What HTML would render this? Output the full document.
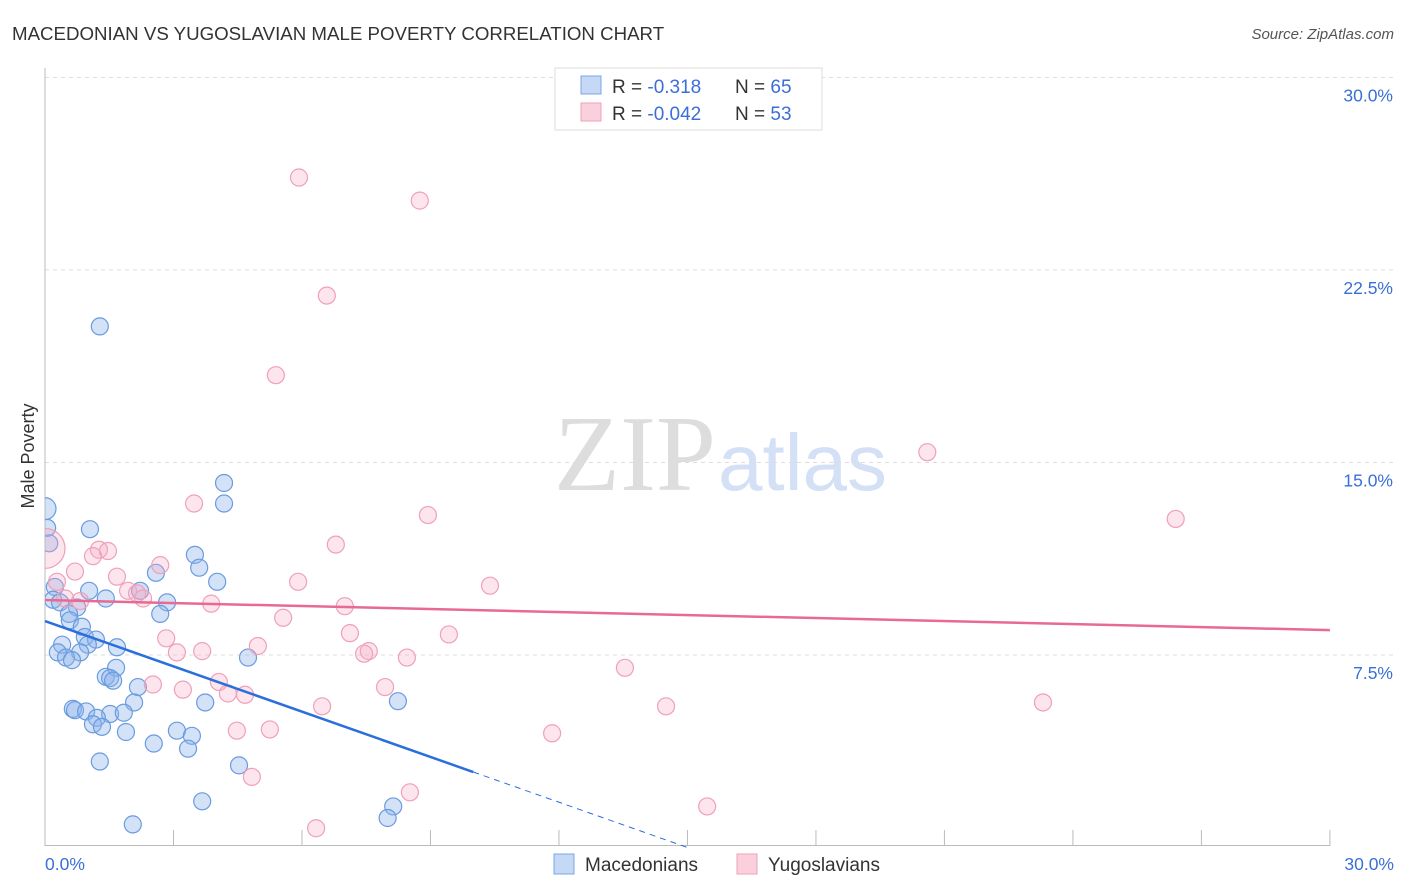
<!DOCTYPE html>
<html><head><meta charset="utf-8"><style>
body{margin:0;background:#fff;font-family:"Liberation Sans",sans-serif}
#wrap{position:relative;width:1406px;height:892px;overflow:hidden}
</style></head><body>
<div id="wrap">
<svg id="svg" width="1406" height="892" xmlns="http://www.w3.org/2000/svg">
<defs><clipPath id="plotclip"><rect x="45" y="60" width="1360" height="786"/></clipPath></defs>
<text x="12" y="40" font-size="18.7" fill="#333">MACEDONIAN VS YUGOSLAVIAN MALE POVERTY CORRELATION CHART</text>
<text x="1394" y="39" font-size="15" fill="#555" text-anchor="end" font-style="italic">Source: ZipAtlas.com</text>
<text x="716" y="490" font-size="108" fill="#ddd" text-anchor="end" font-family="Liberation Serif">ZIP</text>
<text x="718" y="490" font-size="80" fill="#d3e0f5">atlas</text>
<g id="grid"></g><g id="pts" clip-path="url(#plotclip)"></g><g id="trend"></g>
<text transform="translate(34,456) rotate(-90)" font-size="18" fill="#333" text-anchor="middle">Male Poverty</text>
<text x="45" y="870" font-size="17.5" fill="#3a6fd8">0.0%</text>
<text x="1394" y="870" font-size="17.5" fill="#3a6fd8" text-anchor="end">30.0%</text>
<g>
<rect x="555" y="68" width="267" height="62" fill="#fff" stroke="#ddd"/>
<rect x="581" y="76" width="20" height="18" fill="#c5d8f6" stroke="#7ea4e6"/>
<rect x="581" y="103" width="20" height="18" fill="#fbd0dd" stroke="#f0a0b8"/>
<text x="612" y="93" font-size="19" fill="#333">R = <tspan fill="#3a6fd8">-0.318</tspan><tspan x="735">N = </tspan><tspan fill="#3a6fd8">65</tspan></text>
<text x="612" y="120" font-size="19" fill="#333">R = <tspan fill="#3a6fd8">-0.042</tspan><tspan x="735">N = </tspan><tspan fill="#3a6fd8">53</tspan></text>
</g>
<g>
<rect x="554" y="854" width="20" height="20" fill="#c5d8f6" stroke="#7ea4e6"/>
<text x="585" y="871" font-size="19" fill="#333">Macedonians</text>
<rect x="737" y="854" width="20" height="20" fill="#fbd0dd" stroke="#f0a0b8"/>
<text x="768" y="871" font-size="19" fill="#333">Yugoslavians</text>
</g>
</svg></div>
<script>
const yTicks=[7.5,15,22.5,30];
const yTickLabels=["7.5%","15.0%","22.5%","30.0%"];
const macX=[0,0.05,0.1,1.28,1.05,4.18,4.18,3.5,3.6,4.02,2.59,2.22,0.23,1.03,1.42,0.19,0.35,2.85,2.69,0.75,0.56,0.58,0.86,0.93,1.19,0.4,1.0,1.68,0.3,0.82,0.49,0.63,4.74,1.66,1.42,1.52,1.59,2.17,2.08,3.74,8.24,0.65,0.7,0.96,1.52,1.84,1.21,1.12,1.33,1.89,3.08,3.43,3.34,2.54,1.28,4.53,3.67,8.13,8.0,2.05];
const macY=[13.2,12.45,11.85,20.3,12.4,14.2,13.4,11.4,10.9,10.35,10.7,10.0,10.15,10.0,9.7,9.65,9.55,9.55,9.1,9.35,9.1,8.85,8.6,8.2,8.1,7.9,7.9,7.8,7.6,7.6,7.4,7.3,7.4,7.0,6.65,6.6,6.5,6.25,5.65,5.65,5.7,5.4,5.35,5.3,5.2,5.25,5.05,4.8,4.7,4.5,4.55,4.35,3.85,4.05,3.35,3.2,1.8,1.6,1.15,0.9];
const yugX=[5.93,8.75,6.58,5.39,20.6,26.4,3.48,8.94,6.79,0,1.26,1.47,1.12,2.69,0.7,1.68,0.28,5.91,10.39,1.94,2.15,2.29,0.47,0.82,3.88,7.0,5.56,7.12,9.43,2.83,4.97,3.08,3.67,7.56,7.45,8.45,13.54,4.06,2.52,3.22,7.94,4.27,4.67,6.47,14.5,23.3,4.48,5.25,11.84,4.83,8.52,15.46,6.33];
const yugY=[26.1,25.2,21.5,18.4,15.4,12.8,13.4,12.95,11.8,11.65,11.6,11.55,11.35,11.0,10.75,10.55,10.35,10.35,10.2,10.0,9.9,9.7,9.7,9.6,9.5,9.4,8.95,8.35,8.3,8.15,7.85,7.6,7.65,7.65,7.55,7.4,7.0,6.45,6.35,6.15,6.25,6.0,5.95,5.5,5.5,5.65,4.55,4.6,4.45,2.75,2.15,1.6,0.75];
const macTrend=[8.82,-0.588];
const yugTrend=[9.64,-0.039];
const X=v=>45+v*42.83, Y=v=>847.5-v*25.67;
const NS="http://www.w3.org/2000/svg";
function mk(t,a,p){const e=document.createElementNS(NS,t);for(const k in a)e.setAttribute(k,a[k]);p.appendChild(e);return e;}
const grid=document.getElementById('grid'),pts=document.getElementById('pts'),tr=document.getElementById('trend');
yTicks.forEach((v,i)=>{
 const l=mk('line',{x1:45,x2:1395,y1:Y(v),y2:Y(v),stroke:'#ddd','stroke-dasharray':'4,4'},grid);
 
 
 const t=mk('text',{x:1393,y:Y(v)+24,'font-size':17.5,fill:'#3a6fd8','text-anchor':'end'},grid);t.textContent=yTickLabels[i];
 
 
});
mk('line',{x1:45,x2:45,y1:68,y2:846,stroke:'#bbb'},grid);
mk('line',{x1:45,x2:1330,y1:845.5,y2:845.5,stroke:'#bbb'},grid);
for(let i=0;i<=10;i++){const tk=mk('line',{x1:X(i*3),x2:X(i*3),y1:830,y2:846,stroke:'#bbb'},grid);
 
 }
macX.forEach((x,i)=>{const c=mk('circle',{cx:X(x),cy:Y(macY[i]),r:i==0?11:8.5,fill:'rgba(140,180,235,0.38)',stroke:'#6a9be0','stroke-width':1.2},pts);
 
 });
yugX.forEach((x,i)=>{const c=mk('circle',{cx:X(x),cy:Y(yugY[i]),r:i==9?20:8.5,fill:'rgba(245,170,195,0.3)',stroke:'#f0a0b8','stroke-width':1.2},pts);
 
 });
const f=(t,x)=>t[0]+t[1]*x;
let l=mk('line',{x1:X(0),y1:Y(f(macTrend,0)),x2:X(10),y2:Y(f(macTrend,10)),stroke:'#2a6fdb','stroke-width':2.5},tr);


const xe=-macTrend[0]/macTrend[1];
l=mk('line',{x1:X(10),y1:Y(f(macTrend,10)),x2:X(xe),y2:Y(0),stroke:'#2a6fdb','stroke-width':1,'stroke-dasharray':'6,5'},tr);


l=mk('line',{x1:X(0),y1:Y(f(yugTrend,0)),x2:X(30),y2:Y(f(yugTrend,30)),stroke:'#e86a92','stroke-width':2.5},tr);


</script>
</body></html>
